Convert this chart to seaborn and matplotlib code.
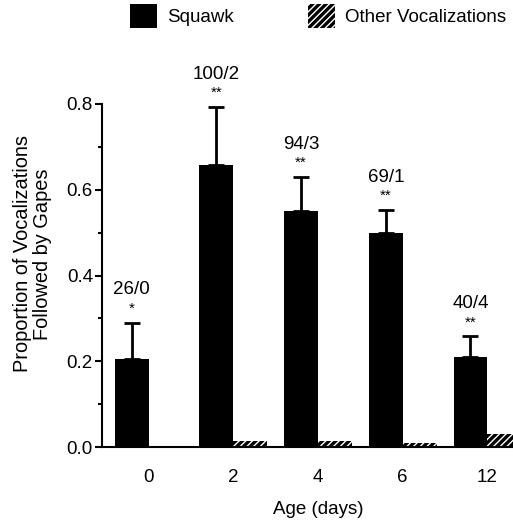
import matplotlib
matplotlib.use("Agg")
import matplotlib.pyplot as plt
import seaborn as sns
import pandas as pd
from matplotlib.patches import Patch
from matplotlib.ticker import MultipleLocator, FormatStrFormatter

ages = ["0", "2", "4", "6", "12"]
squawk = [0.205, 0.658, 0.550, 0.499, 0.21]
squawk_err = [0.085, 0.135, 0.080, 0.054, 0.048]
other = [0.0, 0.015, 0.015, 0.010, 0.030]
counts = ["26/0", "100/2", "94/3", "69/1", "40/4"]
stars = ["*", "**", "**", "**", "**"]
series = ["Squawk", "Other Vocalizations"]

sns.set_theme(style="ticks")
plt.rcParams["font.family"] = ["Liberation Sans", "DejaVu Sans"]
plt.rcParams["hatch.linewidth"] = 1.0
for k in ["text.color", "axes.labelcolor", "xtick.color", "ytick.color",
          "axes.edgecolor"]:
    plt.rcParams[k] = "black"

FS = 13.5

df = pd.DataFrame({
    "age": ages * 2,
    "value": squawk + other,
    "type": [series[0]] * len(ages) + [series[1]] * len(ages),
})

fig = plt.figure(figsize=(5.13, 5.20), dpi=100)
ax = fig.add_axes([102 / 513, 73 / 520, 432 / 513, 343 / 520])

sns.barplot(data=df, x="age", y="value", hue="type", order=ages,
            hue_order=series, palette=["black", "black"], width=0.8,
            errorbar=None, ax=ax, legend=False, saturation=1)

sq_bars = ax.containers[0]
ot_bars = ax.containers[1]
for p in sq_bars:
    p.set_edgecolor("black")
    p.set_linewidth(0)
for p in ot_bars:
    p.set_facecolor("black")
    p.set_edgecolor("white")
    p.set_linewidth(0)
    p.set_hatch("/////")

xs = [p.get_x() + p.get_width() / 2 for p in sq_bars]
ax.errorbar(xs, squawk, yerr=[[0] * len(xs), squawk_err], fmt="none",
            ecolor="black", elinewidth=2.0, capsize=6, capthick=2.0,
            clip_on=False)

for x, v, e, c, s in zip(xs, squawk, squawk_err, counts, stars):
    top = v + e
    ax.annotate(s, (x, top), xytext=(0, 5), textcoords="offset points",
                ha="center", va="bottom", fontsize=11, annotation_clip=False)
    ax.annotate(c, (x, top), xytext=(0, 17.5), textcoords="offset points",
                ha="center", va="bottom", fontsize=FS, annotation_clip=False)

ax.set_xlim(-0.55, 4.55)
ax.set_ylim(0, 0.8)
ax.yaxis.set_major_locator(MultipleLocator(0.2))
ax.yaxis.set_minor_locator(MultipleLocator(0.1))
ax.yaxis.set_major_formatter(FormatStrFormatter("%.1f"))
ax.tick_params(axis="y", which="major", length=5, width=1.5, labelsize=FS,
               pad=1.5, direction="out")
ax.tick_params(axis="y", which="minor", length=3, width=1.5, direction="out")
ax.tick_params(axis="x", length=0, labelsize=FS, pad=16)
sns.despine(ax=ax)
ax.spines["left"].set_linewidth(1.5)
ax.spines["bottom"].set_linewidth(1.5)

ax.set_xlabel("Age (days)", fontsize=FS, labelpad=11)
ax.set_ylabel("Proportion of Vocalizations\nFollowed by Gapes", fontsize=14.4,
              linespacing=1.05)
ax.yaxis.set_label_coords(-0.116, 0.563)

handles = [Patch(facecolor="black", edgecolor="black", linewidth=0),
           Patch(facecolor="black", edgecolor="white", hatch="/////", linewidth=0)]
fig.legend(handles, series, loc="upper left",
           bbox_to_anchor=(122 / 513, 1.0 + 4 / 520),
           ncol=2, frameon=False, fontsize=FS, handlelength=1.45,
           handleheight=1.6, handletextpad=0.55, columnspacing=3.95,
           borderaxespad=0.0)

fig.savefig("out.png", dpi=100)
